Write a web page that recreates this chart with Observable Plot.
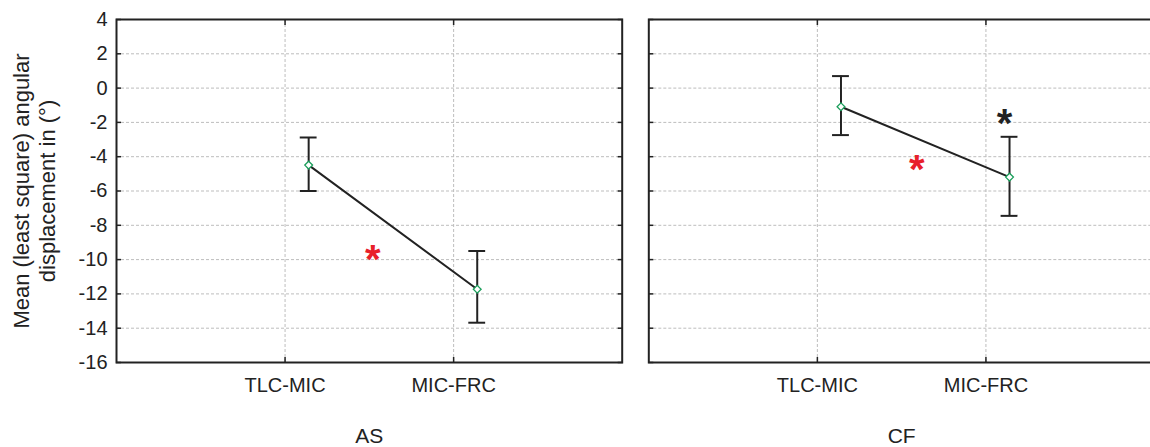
<!DOCTYPE html>
<html><head><meta charset="utf-8">
<script src="https://cdn.jsdelivr.net/npm/d3@7"></script>
<script src="https://cdn.jsdelivr.net/npm/@observablehq/plot@0.6"></script>
<style>
html,body{margin:0;padding:0;background:#fff;overflow:hidden;}
#chart{width:1150px;height:447px;overflow:hidden;}
#chart svg{display:block;}
</style></head><body><div id="chart"></div>
<script>
// ---- data ----
const categories = ["TLC-MIC", "MIC-FRC"];
const panelNames = ["AS", "CF"];
const panel = ["AS", "AS", "CF", "CF"];
const phase = ["TLC-MIC", "MIC-FRC", "TLC-MIC", "MIC-FRC"];
const mean = [-4.49, -11.73, -1.09, -5.19];
const ciLow = [-6.0, -13.68, -2.74, -7.45];
const ciHigh = [-2.88, -9.5, 0.7, -2.84];
const yTicks = [4, 2, 0, -2, -4, -6, -8, -10, -12, -14, -16];
const yLabel = "Mean (least square) angular\ndisplacement in (°)";
// significance markers (x in category units: 1 = TLC-MIC, 2 = MIC-FRC)
const starPanel = ["AS", "CF", "CF"];
const starX = [1.52, 1.59, 2.11];
const starY = [-9.6, -4.4, -1.68];
const starColor = ["#e8202a", "#e8202a", "#222222"];

// ---- build tables ----
const pointShift = 0.14; // points drawn slightly right of category line
const capHalf = 0.05;
const rows = mean.map((m, i) => ({
  panel: panel[i],
  xp: categories.indexOf(phase[i]) + 1 + pointShift,
  mean: m, lo: ciLow[i], hi: ciHigh[i]
}));
const stars = starX.map((x, i) => ({panel: starPanel[i], x, y: starY[i], color: starColor[i]}));
const catPos = categories.map((c, i) => i + 1);

const grid = {stroke: "#bdbdbd", strokeOpacity: 1, strokeDasharray: "3,2", strokeWidth: 1};

const chart = Plot.plot({
  width: 1154,
  height: 447,
  marginLeft: 116,
  marginRight: 0,
  marginTop: 19,
  marginBottom: 85,
  style: {fontFamily: "'Liberation Sans', Arial, sans-serif", color: "#222", background: "#fff", maxWidth: "none"},
  fx: {domain: panelNames, paddingInner: 0.05, paddingOuter: 0, round: false},
  x: {domain: [0, 3]},
  y: {domain: [-16, 4]},
  marks: [
    Plot.gridY(yTicks, grid),
    Plot.gridX(catPos, grid),
    Plot.axisY(yTicks, {anchor: "left", tickSize: 0, tickPadding: 9, fontSize: 20, label: null, tickFormat: d => String(d)}),
    Plot.axisY(yTicks, {anchor: "left", tickSize: -5, fill: "none", facetAnchor: null, label: null, strokeWidth: 1.5}),
    Plot.axisY(yTicks, {anchor: "right", tickSize: -5, fill: "none", facetAnchor: null, label: null, strokeWidth: 1.5}),
    Plot.axisX(catPos, {anchor: "bottom", tickSize: 0, tickPadding: 15, tickFormat: d => categories[d - 1], fontSize: 20, label: null}),
    Plot.axisX(catPos, {anchor: "bottom", tickSize: -5, fill: "none", facetAnchor: null, label: null, strokeWidth: 1.5}),
    Plot.axisX(catPos, {anchor: "top", tickSize: -5, fill: "none", facetAnchor: null, label: null, strokeWidth: 1.5}),
    Plot.axisFx({anchor: "bottom", tickSize: 0, tickPadding: 66, fontSize: 21, label: null}),
    Plot.frame({stroke: "#222", strokeWidth: 2}),
    Plot.ruleX(rows, {fx: "panel", x: "xp", y1: "lo", y2: "hi", stroke: "#222", strokeWidth: 2}),
    Plot.ruleY(rows, {fx: "panel", y: "hi", x1: d => d.xp - capHalf, x2: d => d.xp + capHalf, stroke: "#222", strokeWidth: 2}),
    Plot.ruleY(rows, {fx: "panel", y: "lo", x1: d => d.xp - capHalf, x2: d => d.xp + capHalf, stroke: "#222", strokeWidth: 2}),
    Plot.line(rows, {fx: "panel", x: "xp", y: "mean", z: "panel", stroke: "#222", strokeWidth: 2}),
    Plot.dot(rows, {fx: "panel", x: "xp", y: "mean", symbol: "diamond2", r: 3.5, stroke: "#1b9e5b", fill: "white", strokeWidth: 1.3}),
    Plot.text(stars, {fx: "panel", x: "x", y: "y", text: () => "*", fill: "color", fontSize: 40, fontWeight: "bold", dy: 7}),
    Plot.text([yLabel], {fx: () => "AS", frameAnchor: "left", textAnchor: "middle", rotate: -90, dx: -83, fontSize: 22, lineHeight: 1.18, text: d => d})
  ]
});
document.getElementById("chart").appendChild(chart);
</script>
</body></html>
